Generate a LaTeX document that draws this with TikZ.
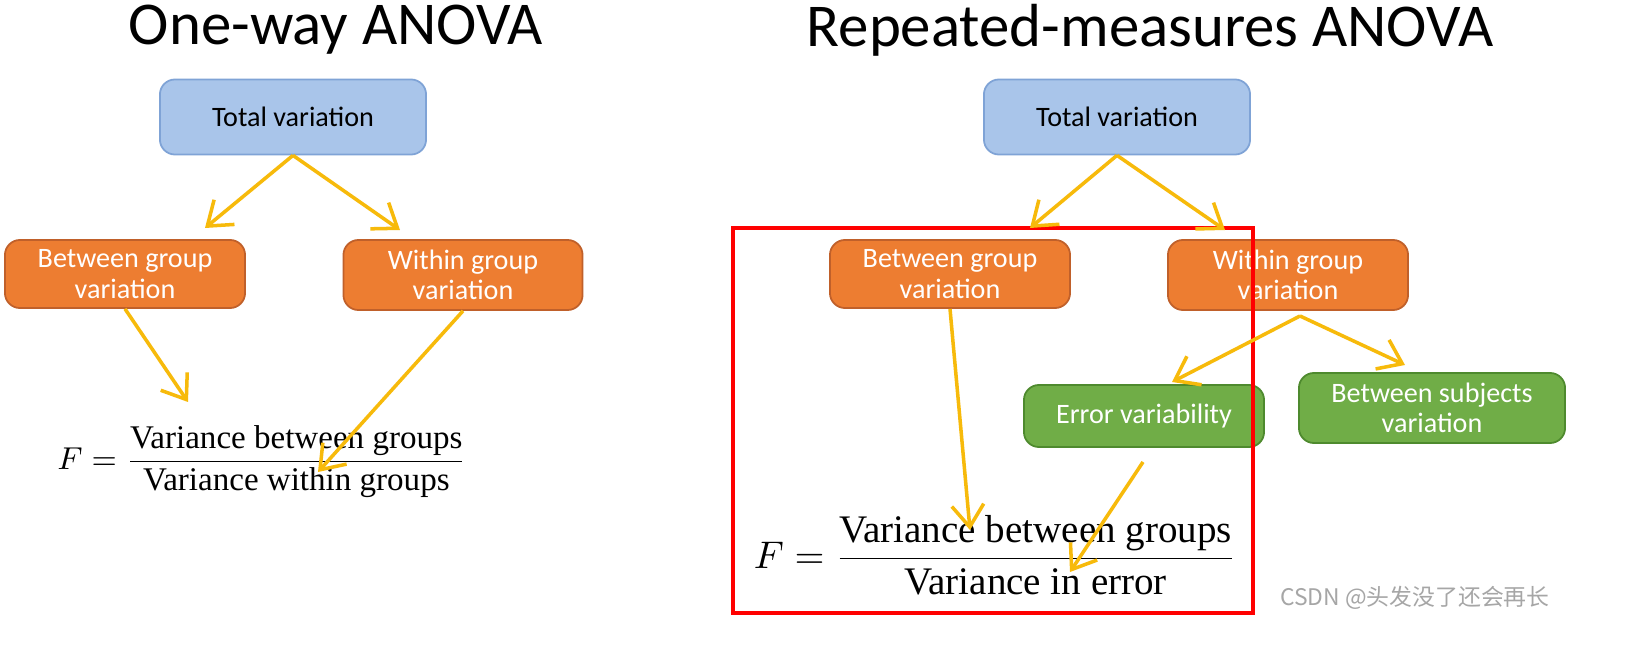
\documentclass[tikz,border=0pt]{standalone}
\usepackage{amsmath}
\usepackage{fontspec}
\usetikzlibrary{arrows.meta}
\setmainfont{Liberation Serif}
\newfontfamily\sansf{Carlito}
\newfontfamily\cjkf{Noto Sans CJK SC}
\definecolor{ta}{HTML}{A9C5EA}
\definecolor{tab}{HTML}{7FA3D6}
\definecolor{or}{HTML}{ED7D31}
\definecolor{orb}{HTML}{C0602A}
\definecolor{gr}{HTML}{70AD47}
\definecolor{grb}{HTML}{4E8A2E}
\definecolor{ye}{HTML}{F7BA0B}
\begin{document}
\begin{tikzpicture}[x=0.01cm,y=-0.01cm,
 box/.style={draw, rounded corners=1.5mm, line width=0.5pt, font=\sansf\fontsize{8}{8.6}\selectfont, text=white, align=center, inner sep=0pt},
 blu/.style={box, fill=ta, draw=tab, text=black},
 orng/.style={box, fill=or, draw=orb},
 grn/.style={box, fill=gr, draw=grb},
 arr/.style={-{Straight Barb[length=2.2mm,width=3.2mm]}, draw=ye, line width=1pt}]
\useasboundingbox (0,0) rectangle (1648,655);
\fill[white] (0,0) rectangle (1648,655);
\node[font=\sansf\fontsize{17.3}{20}\selectfont] (t1) at (336,30) {One-way ANOVA};
\node[font=\sansf\fontsize{17.3}{20}\selectfont] (t2) at (1150,30) {Repeated-measures ANOVA};
% left
\node[blu, minimum width=2.66cm, minimum height=0.75cm] (lt) at (293,117) {Total variation};
\node[orng, minimum width=2.40cm, minimum height=0.68cm] (lb) at (125,274) {Between group\\variation};
\node[orng, minimum width=2.39cm, minimum height=0.70cm] (lw) at (463,275) {Within group\\variation};
\node[font=\fontsize{9.4}{11}\selectfont] (lf) at (262,462) {$F=\dfrac{\text{Variance between groups}}{\text{Variance within groups}}$};
\coordinate (la) at (188,402);
\coordinate (lc) at (318,472);
\draw[arr] (lt.south) -- (205,228);
\draw[arr] (lt.south) -- (400,230);
\draw[arr] (lb.south) -- (la);
\draw[arr] (lw.south) -- (lc);
% right
\node[blu, minimum width=2.66cm, minimum height=0.75cm] (rt) at (1117,117) {Total variation};
\node[orng, minimum width=2.40cm, minimum height=0.68cm] (rb) at (950,274) {Between group\\variation};
\node[orng, minimum width=2.40cm, minimum height=0.70cm] (rw) at (1288,275) {Within group\\variation};
\node[grn, minimum width=2.40cm, minimum height=0.62cm] (re) at (1144,416) {Error variability};
\node[grn, minimum width=2.66cm, minimum height=0.70cm] (rs) at (1432,408) {Between subjects\\variation};
\node[font=\fontsize{11.1}{13}\selectfont] (rf) at (995,555) {$F=\dfrac{\text{Variance between groups}}{\text{Variance in error}}$};
\draw[red, line width=1.3pt] (733,228) rectangle (1253,613);
\draw[arr] (rt.south) -- (1030,228);
\draw[arr] (rt.south) -- (1225,230);
\draw[arr] (rb.south) -- (970,530);
\draw[arr] (1300,316) -- (1172,382);
\draw[arr] (1300,316) -- (1405,365);
\draw[arr] (1143,462) -- (1070,572);
\node[text=gray!70, font=\cjkf\fontsize{6.5}{8}\selectfont, anchor=east] (wm) at (1562,598) {CSDN @头发没了还会再长};
\end{tikzpicture}
\end{document}
